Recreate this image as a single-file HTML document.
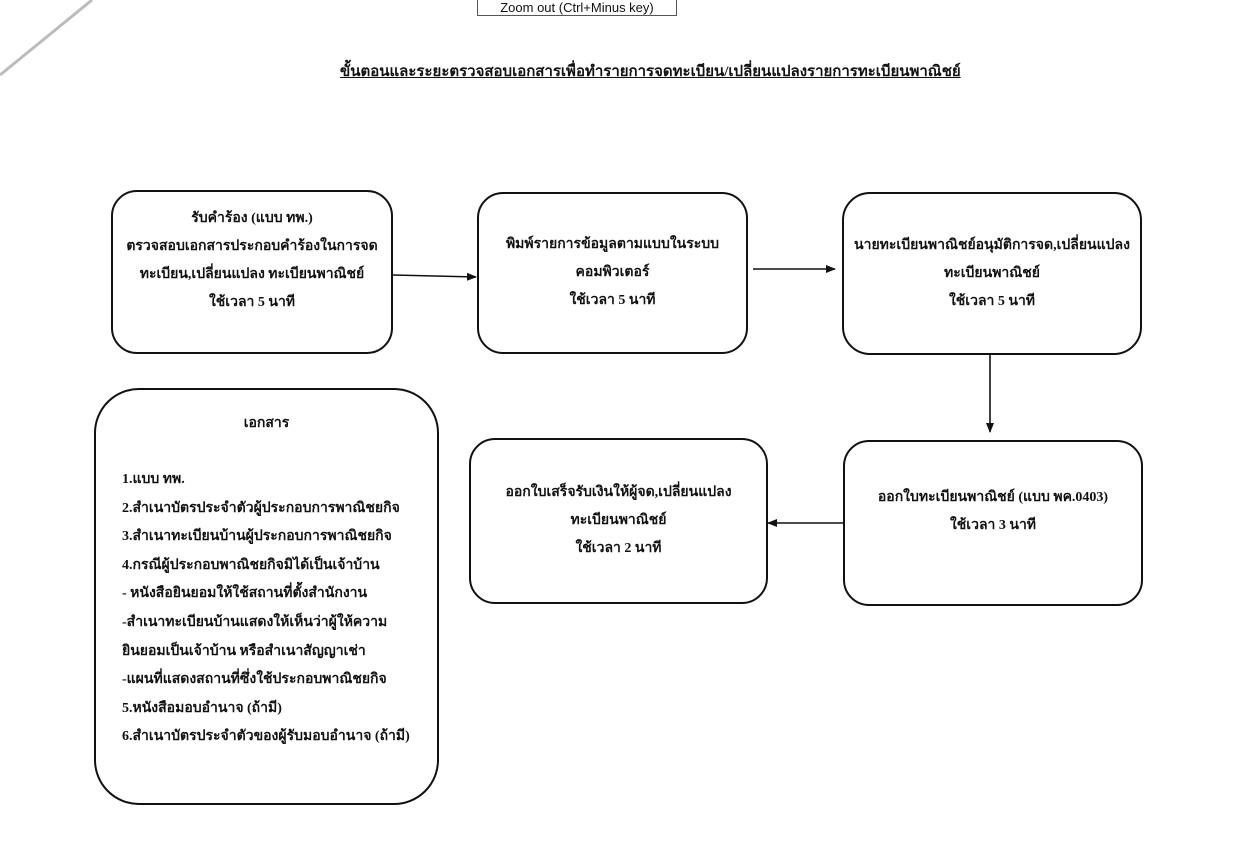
<!DOCTYPE html>
<html><head><meta charset="utf-8">
<style>
html,body{margin:0;padding:0;}
body{width:1238px;height:846px;position:relative;background:#fff;overflow:hidden;
font-family:"Liberation Serif","DejaVu Serif",serif;color:#111;}
.box{position:absolute;border:2px solid #111;background:#fff;box-sizing:border-box;
display:flex;flex-direction:column;justify-content:center;align-items:center;text-align:center;
font-weight:bold;font-size:14px;line-height:28px;}
.title{position:absolute;left:340px;top:59px;width:612px;text-align:center;font-weight:bold;
font-size:15px;text-decoration:underline;white-space:nowrap;}
.docs{position:absolute;left:94px;top:388px;width:345px;height:417px;border:2px solid #111;
border-radius:45px;box-sizing:border-box;font-weight:bold;font-size:14px;line-height:28.6px;}
.zoom{position:absolute;left:477px;top:-8px;width:200px;height:24px;border:1px solid #555;
background:#fff;font-family:"Liberation Sans",sans-serif;font-size:13px;text-align:center;line-height:30px;box-sizing:border-box;}
</style></head><body>
<svg width="1238" height="846" style="position:absolute;left:0;top:0">
<defs><marker id="a" markerWidth="10" markerHeight="10" refX="9" refY="5" orient="auto" markerUnits="userSpaceOnUse">
<path d="M0,1 L10,5 L0,9 z" fill="#111"/></marker></defs>
<line x1="0" y1="75" x2="92" y2="0" stroke="#bbb" stroke-width="3"/>
<line x1="393" y1="275" x2="476" y2="277" stroke="#111" stroke-width="1.6" marker-end="url(#a)"/>
<line x1="753" y1="269" x2="835" y2="269" stroke="#111" stroke-width="1.6" marker-end="url(#a)"/>
<line x1="990" y1="355" x2="990" y2="432" stroke="#111" stroke-width="1.6" marker-end="url(#a)"/>
<line x1="843" y1="523" x2="768" y2="523" stroke="#111" stroke-width="1.6" marker-end="url(#a)"/>
</svg>
<div class="zoom">Zoom out (Ctrl+Minus key)</div>
<div class="title">ขั้นตอนและระยะตรวจสอบเอกสารเพื่อทำรายการจดทะเบียน/เปลี่ยนแปลงรายการทะเบียนพาณิชย์</div>

<div class="box" style="left:111px;top:190px;width:282px;height:164px;border-radius:26px;padding-bottom:22px;">
<div>รับคำร้อง (แบบ ทพ.)</div><div>ตรวจสอบเอกสารประกอบคำร้องในการจด</div><div>ทะเบียน,เปลี่ยนแปลง ทะเบียนพาณิชย์</div><div>ใช้เวลา 5 นาที</div></div>

<div class="box" style="left:477px;top:192px;width:271px;height:162px;border-radius:26px;">
<div>พิมพ์รายการข้อมูลตามแบบในระบบ</div><div>คอมพิวเตอร์</div><div>ใช้เวลา 5 นาที</div></div>

<div class="box" style="left:842px;top:192px;width:300px;height:163px;border-radius:28px;">
<div>นายทะเบียนพาณิชย์อนุมัติการจด,เปลี่ยนแปลง</div><div>ทะเบียนพาณิชย์</div><div>ใช้เวลา 5 นาที</div></div>

<div class="box" style="left:469px;top:438px;width:299px;height:166px;border-radius:26px;">
<div>ออกใบเสร็จรับเงินให้ผู้จด,เปลี่ยนแปลง</div><div>ทะเบียนพาณิชย์</div><div>ใช้เวลา 2 นาที</div></div>

<div class="box" style="left:843px;top:440px;width:300px;height:166px;border-radius:26px;padding-bottom:22px;">
<div>ออกใบทะเบียนพาณิชย์ (แบบ พค.0403)</div><div>ใช้เวลา 3 นาที</div></div>

<div class="docs">
<div style="position:absolute;left:0;width:100%;top:20px;text-align:center;">เอกสาร</div>
<div style="position:absolute;left:26px;top:76px;white-space:nowrap;">
<div>1.แบบ ทพ.</div>
<div>2.สำเนาบัตรประจำตัวผู้ประกอบการพาณิชยกิจ</div>
<div>3.สำเนาทะเบียนบ้านผู้ประกอบการพาณิชยกิจ</div>
<div>4.กรณีผู้ประกอบพาณิชยกิจมิได้เป็นเจ้าบ้าน</div>
<div>- หนังสือยินยอมให้ใช้สถานที่ตั้งสำนักงาน</div>
<div>-สำเนาทะเบียนบ้านแสดงให้เห็นว่าผู้ให้ความ</div>
<div>ยินยอมเป็นเจ้าบ้าน หรือสำเนาสัญญาเช่า</div>
<div>-แผนที่แสดงสถานที่ซึ่งใช้ประกอบพาณิชยกิจ</div>
<div>5.หนังสือมอบอำนาจ (ถ้ามี)</div>
<div>6.สำเนาบัตรประจำตัวของผู้รับมอบอำนาจ (ถ้ามี)</div>
</div></div>
</body></html>
